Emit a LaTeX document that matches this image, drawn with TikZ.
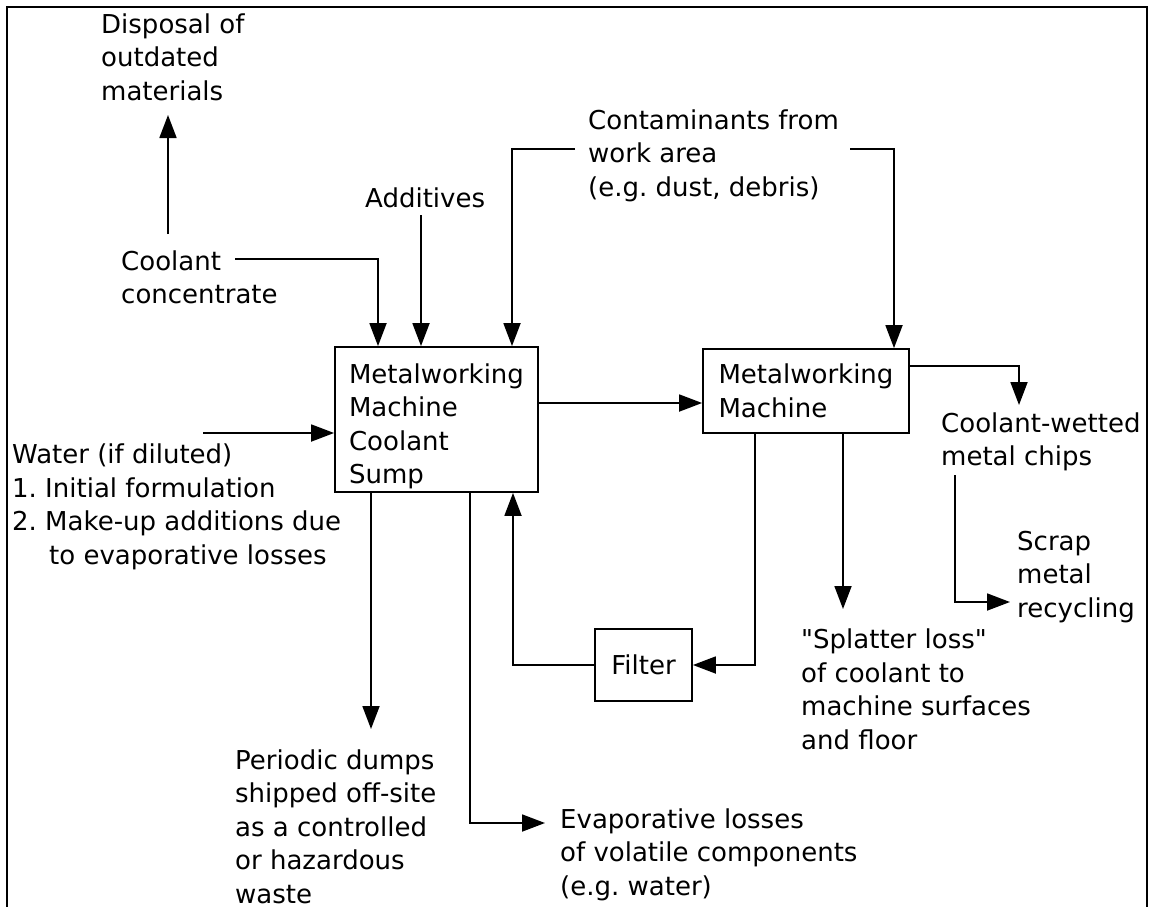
\documentclass[tikz,border=0pt]{standalone}
\usepackage{fontspec}
\setmainfont{DejaVu Sans}[Ligatures=TeXOff]
\usetikzlibrary{arrows.meta}
\frenchspacing

\begin{document}
\begin{tikzpicture}[x=1pt,y=-1pt,every node/.style={font=\fontsize{26}{33.5}\selectfont}]
    \tikzset{% This is the style settings for nodes
    box/.style={draw,line width=1.8pt,inner sep=0pt,align=left},
    lbl/.style={anchor=base west,inner sep=0pt,align=left},
    c1/.style={line width=1.8pt,-{Triangle[length=23pt,width=17pt]}},
    }
    \useasboundingbox (0,0) rectangle (1151,907);
    % Frame
    \draw[line width=2pt] (7,910) -- (7,7) -- (1147,7) -- (1147,910);

    % Nodes (boxes)
    \node[box,minimum width=203pt,minimum height=145pt] (sump) at (436.5,419.5) {\rule{0pt}{33pt}Metalworking\\Machine\\Coolant\\Sump};
    \node[box,minimum width=206pt,minimum height=84pt] (mach) at (806,391) {Metalworking\\Machine};
    \node[box,minimum width=97pt,minimum height=72pt] (filt) at (643.5,665) {Filter};

    % Nodes (labels, placed at the baseline of their last line)
    \node[lbl] (disp) at (101,100) {Disposal of\\outdated\\materials};
    \node[lbl] (cool) at (121,303.5) {Coolant\\concentrate};
    \node[lbl] (add) at (365,207) {Additives};
    \node[lbl] (cont) at (588,196) {Contaminants from\\work area\\(e.g. dust, debris)};
    \node[lbl] (water) at (12,564) {Water (if diluted)\\1. Initial formulation\\2. Make-up additions due\\\hspace*{37pt}to evaporative losses};
    \node[lbl] (chips) at (941,465.5) {Coolant-wetted\\metal chips};
    \node[lbl] (scrap) at (1017,617) {Scrap\\metal\\recycling};
    \node[lbl] (splat) at (801,749) {"Splatter loss"\\of coolant to\\machine surfaces\\and floor};
    \node[lbl] (dump) at (235,903) {Periodic dumps\\shipped off-site\\as a controlled\\or hazardous\\waste};
    \node[lbl] (evap) at (560,895) {Evaporative losses\\of volatile components\\(e.g. water)};

    % Free ends
    \coordinate (disp0) at (168,234);
    \coordinate (disp1) at (168,115);
    \coordinate (cool0) at (235,259);
    \coordinate (add0) at (421,215);
    \coordinate (cont0) at (575,149);
    \coordinate (cont1) at (850,149);
    \coordinate (water0) at (203,433);
    \coordinate (chips0) at (1019,405);
    \coordinate (chips1) at (955,475);
    \coordinate (scrap0) at (1010,602);
    \coordinate (splat0) at (843,609);
    \coordinate (dump0) at (371,729);
    \coordinate (evap0) at (545,823);

    %Edges
    \draw[c1] (disp0) -- (disp1);
    \draw[c1] (cool0) -| ([xshift=-58.5pt]sump.north);
    \draw[c1] (add0) -- ([xshift=-15.5pt]sump.north);
    \draw[c1] (cont0) -| ([xshift=75.5pt]sump.north);
    \draw[c1] (cont1) -| ([xshift=88pt]mach.north);
    \draw[c1] (water0) -- (water0 -| sump.west);
    \draw[c1] ([yshift=16.5pt]sump.east) -- ([yshift=16.5pt]sump.east -| mach.west);
    \draw[c1] ([yshift=25pt]mach.east) -| (chips0);
    \draw[c1] (chips1) |- (scrap0);
    \draw[c1] ([xshift=37pt]mach.south) -- (splat0);
    \draw[c1] ([xshift=-51pt]mach.south) |- (filt.east);
    \draw[c1] (filt.west) -| ([xshift=76.5pt]sump.south);
    \draw[c1] ([xshift=-65.5pt]sump.south) -- (dump0);
    \draw[c1] ([xshift=33.5pt]sump.south) |- (evap0);
\end{tikzpicture}
\end{document}
